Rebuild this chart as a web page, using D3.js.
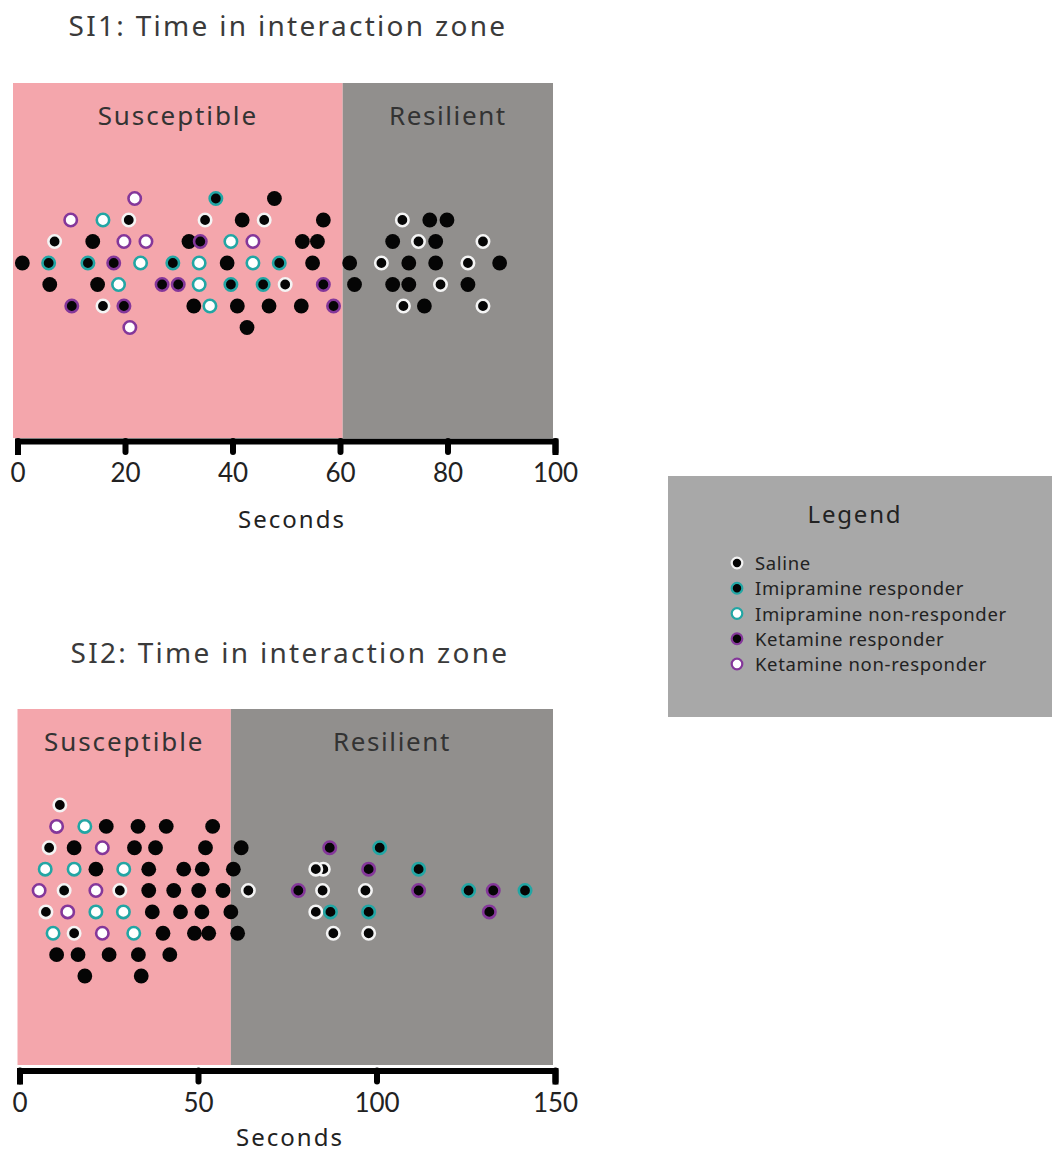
<!DOCTYPE html>
<html>
<head>
<meta charset="utf-8">
<script src="https://cdn.jsdelivr.net/npm/d3@7"></script>
<style>
  body { margin: 0; background: #fff; }
  svg { display: block; font-family: "Noto Sans", "Open Sans", sans-serif; }
</style>
</head>
<body>
<svg id="chart" width="1052" height="1152"></svg>
<script>
// group codes: B = untagged (plain black), S = saline, IR / INR = imipramine, KR / KNR = ketamine
const groupKeys = ['S', 'IR', 'INR', 'KR', 'KNR'];
const groupNames = ['Saline', 'Imipramine responder', 'Imipramine non-responder', 'Ketamine responder', 'Ketamine non-responder'];

// SI1 – seconds, swarm row, group (listed row by row, top to bottom)
const si1Seconds = [
  21.8, 36.9, 47.8,
  9.9, 15.9, 20.7, 34.9, 41.8, 45.9, 56.9, 71.6, 76.7, 79.9,
  6.9, 14.0, 19.8, 23.9, 31.9, 34.0, 39.7, 43.8, 53.0, 55.8, 69.8, 74.6, 77.8, 86.6,
  0.9, 5.8, 13.1, 17.9, 22.9, 28.9, 33.8, 39.0, 43.8, 48.7, 54.9, 61.8, 67.7, 72.8, 77.8, 83.8, 89.7,
  6.0, 14.9, 18.8, 26.9, 29.9, 33.8, 39.7, 45.7, 49.8, 56.9, 62.7, 69.8, 72.8, 78.7, 83.8,
  10.1, 15.9, 19.8, 32.8, 35.8, 40.9, 46.8, 52.8, 58.8, 71.8, 75.7, 86.6,
  20.9, 42.7
];
const si1Rows = [
  3, 3, 3,
  2, 2, 2, 2, 2, 2, 2, 2, 2, 2,
  1, 1, 1, 1, 1, 1, 1, 1, 1, 1, 1, 1, 1, 1,
  0, 0, 0, 0, 0, 0, 0, 0, 0, 0, 0, 0, 0, 0, 0, 0, 0,
  -1, -1, -1, -1, -1, -1, -1, -1, -1, -1, -1, -1, -1, -1, -1,
  -2, -2, -2, -2, -2, -2, -2, -2, -2, -2, -2, -2,
  -3, -3
];
const si1Groups = [
  'KNR', 'IR', 'B',
  'KNR', 'INR', 'S', 'S', 'B', 'S', 'B', 'S', 'B', 'B',
  'S', 'B', 'KNR', 'KNR', 'B', 'KR', 'INR', 'KNR', 'B', 'B', 'B', 'S', 'B', 'S',
  'B', 'IR', 'IR', 'KR', 'INR', 'IR', 'INR', 'B', 'INR', 'IR', 'B', 'B', 'S', 'B', 'B', 'S', 'B',
  'B', 'B', 'INR', 'KR', 'KR', 'INR', 'IR', 'IR', 'S', 'KR', 'B', 'B', 'B', 'S', 'B',
  'KR', 'S', 'KR', 'B', 'INR', 'B', 'B', 'B', 'KR', 'S', 'B', 'S',
  'KNR', 'B'
];

// SI2
const si2Seconds = [
  11.3,
  10.4, 18.3, 24.3, 33.2, 41.1, 54.1,
  8.3, 15.3, 23.2, 32.2, 38.1, 52.1, 62.1, 86.9, 100.9,
  7.2, 15.3, 21.4, 29.2, 36.2, 46.0, 51.2, 59.9, 85.1, 83.0, 97.8, 111.8,
  5.5, 12.5, 21.4, 28.1, 36.2, 43.2, 50.2, 57.0, 64.1, 78.1, 84.9, 96.9, 111.8, 125.8, 132.7, 141.6,
  7.4, 13.5, 21.4, 29.1, 37.2, 45.1, 51.1, 59.2, 83.0, 87.1, 97.8, 131.6,
  9.4, 15.3, 23.2, 32.0, 40.2, 49.0, 53.0, 61.1, 87.9, 97.8,
  10.4, 16.4, 25.1, 33.3, 42.1,
  18.3, 34.1
];
const si2Rows = [
  4,
  3, 3, 3, 3, 3, 3,
  2, 2, 2, 2, 2, 2, 2, 2, 2,
  1, 1, 1, 1, 1, 1, 1, 1, 1, 1, 1, 1,
  0, 0, 0, 0, 0, 0, 0, 0, 0, 0, 0, 0, 0, 0, 0, 0,
  -1, -1, -1, -1, -1, -1, -1, -1, -1, -1, -1, -1,
  -2, -2, -2, -2, -2, -2, -2, -2, -2, -2,
  -3, -3, -3, -3, -3,
  -4, -4
];
const si2Groups = [
  'S',
  'KNR', 'INR', 'B', 'B', 'B', 'B',
  'S', 'B', 'KNR', 'B', 'B', 'B', 'B', 'KR', 'IR',
  'INR', 'INR', 'B', 'INR', 'B', 'B', 'B', 'B', 'S', 'S', 'KR', 'IR',
  'KNR', 'S', 'KNR', 'S', 'B', 'B', 'B', 'B', 'S', 'KR', 'S', 'S', 'KR', 'IR', 'KR', 'IR',
  'S', 'KNR', 'INR', 'INR', 'B', 'B', 'B', 'B', 'S', 'IR', 'IR', 'KR',
  'INR', 'S', 'KNR', 'INR', 'B', 'B', 'B', 'B', 'S', 'S',
  'B', 'B', 'B', 'B', 'B',
  'B', 'B'
];

const si1Ticks = [0, 20, 40, 60, 80, 100];
const si2Ticks = [0, 50, 100, 150];
const si1Cutoff = 60.5;
const si2Cutoff = 59.2;

const teal = '#22a6a4', purple = '#84379a';
const dotStyle = {
  B:   { fill: '#050505', stroke: 'none' },
  S:   { fill: '#050505', stroke: '#f4f4f4' },
  IR:  { fill: '#050505', stroke: teal },
  INR: { fill: '#ffffff', stroke: teal },
  KR:  { fill: '#050505', stroke: purple },
  KNR: { fill: '#ffffff', stroke: purple }
};

const svg = d3.select('#chart');

function drawPanel(cfg) {
  const x = d3.scaleLinear().domain(cfg.domain).range(cfg.xRange);
  const y = d3.scaleLinear().domain(cfg.rowDomain).range(cfg.yRange);
  const g = svg.append('g');

  g.append('text')
    .attr('x', cfg.titleX).attr('y', cfg.titleY)
    .attr('text-anchor', 'middle')
    .attr('font-size', 28).attr('letter-spacing', 2.3).attr('fill', '#3a3a3a')
    .text(cfg.title);

  // zones
  g.append('rect')
    .attr('x', cfg.bgLeft).attr('y', cfg.bgTop)
    .attr('width', x(cfg.cutoff) - cfg.bgLeft).attr('height', cfg.bgBottom - cfg.bgTop)
    .attr('fill', '#f4a6ac');
  g.append('rect')
    .attr('x', x(cfg.cutoff)).attr('y', cfg.bgTop)
    .attr('width', cfg.bgRight - x(cfg.cutoff)).attr('height', cfg.bgBottom - cfg.bgTop)
    .attr('fill', '#918f8d');

  g.append('text')
    .attr('x', (cfg.bgLeft + x(cfg.cutoff)) / 2).attr('y', cfg.bgTop + 42)
    .attr('text-anchor', 'middle').attr('font-size', 26).attr('letter-spacing', 1.9).attr('fill', '#333')
    .text('Susceptible');
  g.append('text')
    .attr('x', (x(cfg.cutoff) + cfg.bgRight) / 2).attr('y', cfg.bgTop + 42)
    .attr('text-anchor', 'middle').attr('font-size', 26).attr('letter-spacing', 1.6).attr('fill', '#333')
    .text('Resilient');

  // axis
  const axis = g.append('g')
    .attr('transform', `translate(0,${cfg.axisY})`)
    .call(d3.axisBottom(x).tickValues(cfg.ticks).tickSizeOuter(0).tickSize(11));
  axis.select('.domain').attr('stroke', '#000').attr('stroke-width', 6).attr('stroke-linecap', 'square');
  axis.selectAll('.tick line').attr('stroke', '#000').attr('stroke-width', 6).attr('stroke-linecap', 'round');
  axis.selectAll('.tick text')
    .attr('y', 23).attr('font-size', 26).attr('fill', '#222')
    .attr('font-family', 'Lato, sans-serif');

  g.append('text')
    .attr('x', cfg.labelX).attr('y', cfg.labelY)
    .attr('text-anchor', 'middle').attr('font-size', 24).attr('letter-spacing', 2).attr('fill', '#222')
    .text('Seconds');

  const pts = cfg.seconds.map((s, i) => ({ s, row: cfg.rows[i], grp: cfg.groups[i] }));
  g.append('g').selectAll('circle')
    .data(pts)
    .join('circle')
    .attr('cx', d => x(d.s))
    .attr('cy', d => y(d.row))
    .attr('r', d => d.grp === 'B' ? 7.4 : 6.2)
    .attr('fill', d => dotStyle[d.grp].fill)
    .attr('stroke', d => dotStyle[d.grp].stroke)
    .attr('stroke-width', 2.6);
}

drawPanel({
  title: 'SI1: Time in interaction zone', titleX: 288, titleY: 36,
  domain: [0, 100], xRange: [17.5, 555], ticks: si1Ticks, cutoff: si1Cutoff,
  rowDomain: [-3, 3], yRange: [327.5, 198.5],
  bgLeft: 13, bgRight: 553, bgTop: 83, bgBottom: 438, axisY: 441,
  labelX: 292, labelY: 528,
  seconds: si1Seconds, rows: si1Rows, groups: si1Groups
});

drawPanel({
  title: 'SI2: Time in interaction zone', titleX: 290, titleY: 663,
  domain: [0, 150], xRange: [19.5, 555], ticks: si2Ticks, cutoff: si2Cutoff,
  rowDomain: [-4, 4], yRange: [976, 805],
  bgLeft: 17.5, bgRight: 553, bgTop: 709, bgBottom: 1065, axisY: 1070.5,
  labelX: 290, labelY: 1146,
  seconds: si2Seconds, rows: si2Rows, groups: si2Groups
});

// legend
const legend = svg.append('g');
legend.append('rect')
  .attr('x', 668).attr('y', 476).attr('width', 384).attr('height', 241)
  .attr('fill', '#a8a8a8');
legend.append('text')
  .attr('x', 855).attr('y', 523)
  .attr('text-anchor', 'middle').attr('font-size', 24).attr('letter-spacing', 1.8).attr('fill', '#222')
  .text('Legend');

const ly = d3.scalePoint().domain(groupKeys).range([563, 664]);
const items = legend.selectAll('g.item')
  .data(groupKeys)
  .join('g').attr('class', 'item')
  .attr('transform', d => `translate(0,${ly(d)})`);
items.append('circle')
  .attr('cx', 737).attr('cy', 0).attr('r', 5.3)
  .attr('fill', d => dotStyle[d].fill)
  .attr('stroke', d => dotStyle[d].stroke)
  .attr('stroke-width', 2.2);
items.append('text')
  .attr('x', 755).attr('y', 7)
  .attr('font-size', 18.5).attr('letter-spacing', 0.65).attr('fill', '#222')
  .text((d, i) => groupNames[i]);
</script>
</body>
</html>
